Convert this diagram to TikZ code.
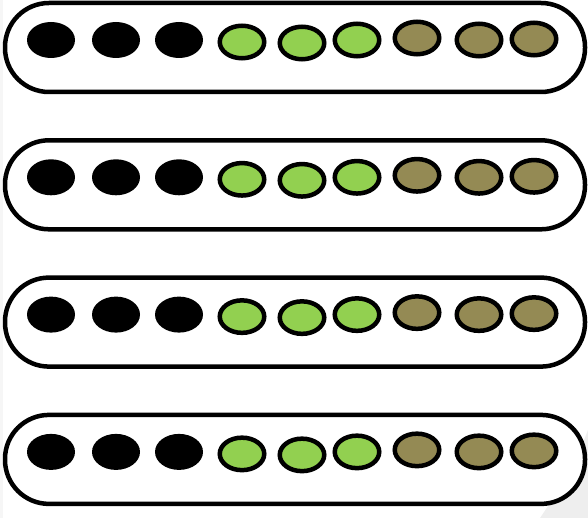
\documentclass[tikz,border=0pt]{standalone}
\usepackage{tikz}
\definecolor{padgreen}{HTML}{92D050}
\definecolor{padolive}{HTML}{948A54}
\tikzset{
  padbar/.style={draw=black, fill=white, line width=4.5pt, rounded corners=44pt},
  padblack/.style={fill=black},
  padlight/.style={draw=black, fill=padgreen, line width=4.5pt},
  paddark/.style={draw=black, fill=padolive, line width=4.5pt}
}
\begin{document}
\begin{tikzpicture}[x=1pt, y=-1pt]
    \useasboundingbox (0,0) rectangle (588,518);
    % page shading
    \fill[gray!7] (0,0) rectangle (3,518);
    \fill[gray!13] (588,430) .. controls (572,470) .. (540,518) -- (588,518) -- cycle;

    \foreach \r in {0,...,3} {
        \begin{scope}[shift={(0,137.3*\r)}]
            \draw[padbar] (5,3) rectangle (585,92);
            \foreach \x/\y in {51/40, 116/40, 179/40}
                \fill[padblack] (\x,\y) ellipse [x radius=24pt, y radius=18pt];
            \foreach \x/\y in {242/42, 302/43, 357/40}
                \draw[padlight] (\x,\y) ellipse [x radius=22.25pt, y radius=16.25pt];
            \foreach \x/\y in {417/38, 479/40, 534/39}
                \draw[paddark] (\x,\y) ellipse [x radius=22.25pt, y radius=16.25pt];
        \end{scope}
    }
\end{tikzpicture}
\end{document}
